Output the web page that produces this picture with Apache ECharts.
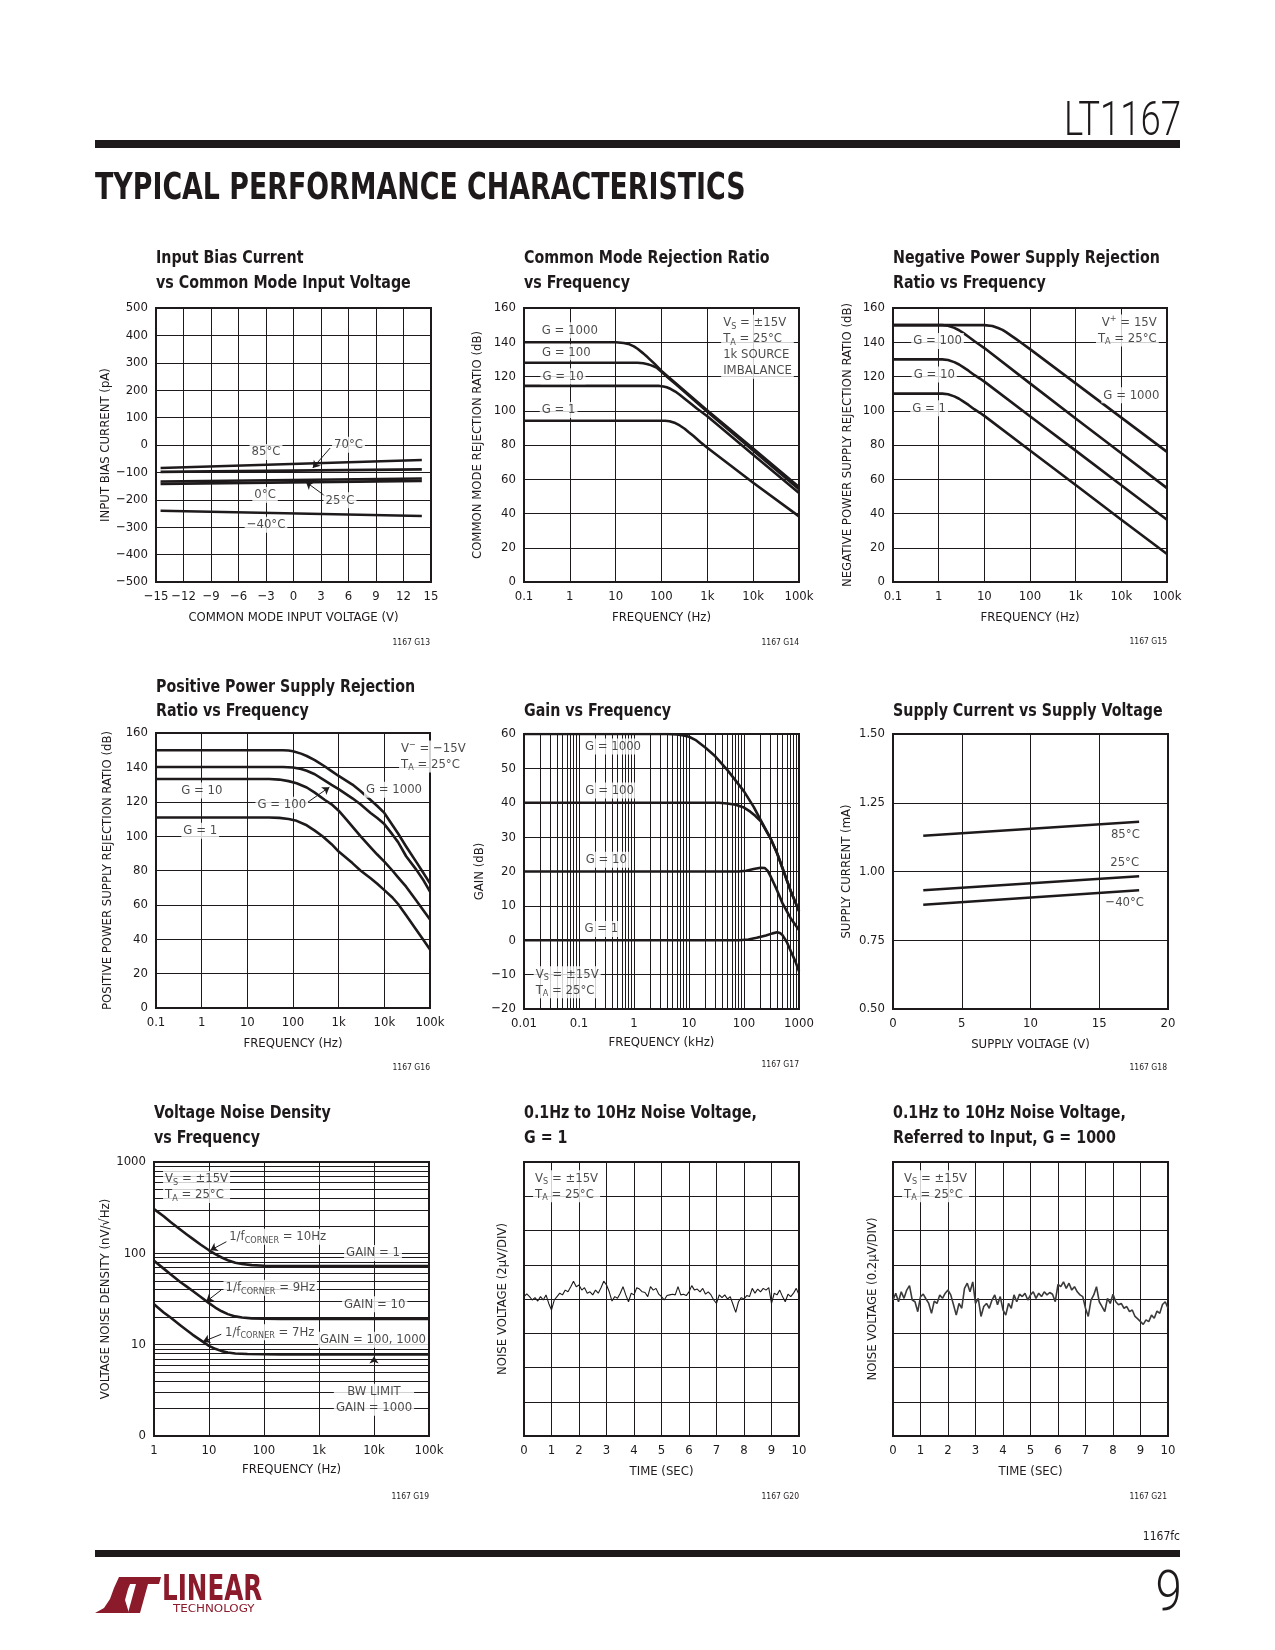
<!DOCTYPE html>
<html><head><meta charset="utf-8">
<script src="https://cdn.jsdelivr.net/npm/echarts@6/dist/echarts.min.js"></script>
<style>html,body{margin:0;padding:0;background:#fff}#c{width:1275px;height:1650px}</style>
</head><body><div id="c"></div>
<script>
// ---------------- DATA ----------------
// G13 Input bias current vs common mode voltage (straight lines, end points)
const ibVcm = [-14.5, 14];
const ib85C = [-84, -55];
const ib70C = [-98, -89];
const ib25C = [-133, -122];
const ib0C = [-142, -131];
const ibM40C = [-240, -259];

// G14 CMRR vs frequency  [Hz, dB]
const cmrrG1000 = [[0.1,140],[10,140],[15,139.6],[20,138.8],[25,137.6],[30,136.2],[40,133.5],[50,131.2],[70,127.5],[100,123.2],[1000,100.2],[10000,78],[100000,55.5]];
const cmrrG100 = [[0.1,128],[30,128],[40,127.7],[50,127.2],[60,126.5],[80,125],[100,122.8],[150,118.5],[200,115.7],[1000,99.4],[10000,76.8],[100000,54.2]];
const cmrrG10 = [[0.1,114.5],[90,114.5],[110,114.2],[130,113.7],[160,112.7],[200,111.2],[250,109.3],[320,107],[400,104.9],[600,101.2],[1000,96.8],[10000,74.3],[100000,52]];
const cmrrG1 = [[0.1,94.2],[120,94.2],[150,93.9],[200,92.8],[250,91.4],[320,89.5],[400,87.3],[500,85.2],[700,81.8],[1000,78.4],[10000,58],[100000,38.3]];

// G15 Negative PSRR vs frequency
const npsrrG1000 = [[0.1,150],[10,150],[15,149.5],[20,148.3],[25,147.2],[30,145.9],[40,143.6],[50,141.8],[70,139],[100,136],[1000,116],[10000,96],[100000,76]];
const npsrrG100 = [[0.1,150],[1.2,150],[1.6,149.6],[2.2,148.4],[2.8,147],[3.5,145.3],[4.5,143.2],[6,140.7],[8,138.4],[10,136.6],[100,116],[1000,95.5],[10000,75.2],[100000,54.8]];
const npsrrG10 = [[0.1,130],[1.2,130],[1.6,129.6],[2.2,128.4],[2.8,127],[3.5,125.3],[4.5,123.4],[6,120.9],[8,118.8],[10,117],[100,96.8],[1000,76.7],[10000,56.5],[100000,36.3]];
const npsrrG1 = [[0.1,110],[1.2,110],[1.6,109.6],[2.2,108.4],[2.8,107],[3.5,105.3],[4.5,103.4],[6,100.9],[8,98.8],[10,97],[100,76.8],[1000,56.6],[10000,36.4],[100000,16.3]];

// G16 Positive PSRR vs frequency
const ppsrrG1000 = [[0.1,150],[60,150],[80,149.8],[100,149.4],[150,148],[200,146.6],[300,144.2],[500,140.5],[700,137.8],[1000,135],[2000,130],[3000,126.2],[5000,121],[7000,117.5],[10000,113.5],[15000,106.5],[20000,101.5],[30000,94],[50000,85],[70000,79],[100000,72.5]];
const ppsrrG100 = [[0.1,140.2],[60,140.2],[100,139.9],[150,139],[200,138],[300,136],[500,132.3],[700,129.8],[1000,127.3],[2000,122],[3000,118.5],[5000,113.5],[7000,110.5],[10000,107],[15000,101],[20000,96.5],[30000,88.3],[50000,80.5],[70000,74.8],[100000,67.7]];
const ppsrrG10 = [[0.1,133.2],[30,133.2],[50,132.9],[80,132],[120,130.8],[200,128.3],[300,125.3],[500,121],[700,118.5],[1000,114.8],[1500,109.5],[2000,105.5],[3000,100],[5000,93.5],[7000,89.3],[10000,85.2],[15000,80],[20000,76],[30000,70.6],[50000,62.5],[70000,57.2],[100000,51.5]];
const ppsrrG1 = [[0.1,110.8],[30,110.8],[50,110.6],[80,110],[120,108.9],[200,106.3],[300,103.2],[450,99.8],[700,95.3],[1000,91],[2000,84.3],[3000,80],[5000,75.5],[7000,72.3],[10000,68.6],[15000,64.3],[20000,60.5],[30000,54],[50000,45.5],[70000,40],[100000,34]];

// G17 Gain vs frequency [kHz, dB]
const gainG1000 = [[0.01,60],[4,60],[6,59.9],[8,59.6],[10,59.2],[13,58.3],[20,56],[30,53.5],[50,49.5],[70,46.5],[100,43.3],[150,38.8],[200,35],[300,29.8],[400,25.3],[500,21],[700,14.5],[1000,8.5]];
const gainG100 = [[0.01,40],[35,40],[50,39.8],[70,39.4],[100,38.6],[130,37.4],[160,36.2],[200,34.7],[300,29.8],[400,25.3],[500,21],[700,14.5],[1000,8.5]];
const gainG10 = [[0.01,20],[80,20],[110,20.2],[150,20.7],[200,21.1],[240,21],[270,20.2],[300,18.8],[350,16.5],[400,14.5],[500,10.8],[700,6.5],[1000,3]];
const gainG1 = [[0.01,0],[80,0],[120,0.2],[170,0.7],[250,1.4],[330,2],[400,2.3],[450,2.1],[500,1.5],[600,-0.5],[700,-3],[850,-6],[1000,-9]];

// G18 Supply current vs supply voltage (straight lines)
const isVs = [2.2, 17.9];
const is85C = [1.130, 1.181];
const is25C = [0.932, 0.983];
const isM40C = [0.879, 0.932];

// G19 Voltage noise density [Hz, nV/rtHz]
const vnGain1 = [[1,305],[1.5,255],[2,220],[3,182],[4,160],[5,145],[7,125],[10,108],[13,98],[17,90],[22,84],[30,79],[40,76.5],[60,74.3],[100,73],[200,72.6],[100000,72.5]];
const vnGain10 = [[1,83],[1.5,68],[2,59],[3,48.5],[4,43],[5,39],[7,33.5],[10,28.5],[13,25.5],[17,23.2],[22,21.6],[30,20.4],[40,19.8],[60,19.4],[100,19.2],[200,19.1],[100000,19.1]];
const vnGain100 = [[1,27.7],[1.5,22.5],[2,19.8],[3,16.3],[4,14.3],[5,12.9],[7,11.2],[10,9.7],[13,9],[17,8.5],[22,8.2],[30,8],[50,7.9],[100,7.85],[200,7.8],[100000,7.8]];

// G20 / G21 0.1Hz-10Hz noise traces (divisions)
const noiseTime = [0,0.1,0.2,0.3,0.4,0.5,0.6,0.7,0.8,0.9,1,1.1,1.2,1.3,1.4,1.5,1.6,1.7,1.8,1.9,2,2.1,2.2,2.3,2.4,2.5,2.6,2.7,2.8,2.9,3,3.1,3.2,3.3,3.4,3.5,3.6,3.7,3.8,3.9,4,4.1,4.2,4.3,4.4,4.5,4.6,4.7,4.8,4.9,5,5.1,5.2,5.3,5.4,5.5,5.6,5.7,5.8,5.9,6,6.1,6.2,6.3,6.4,6.5,6.6,6.7,6.8,6.9,7,7.1,7.2,7.3,7.4,7.5,7.6,7.7,7.8,7.9,8,8.1,8.2,8.3,8.4,8.5,8.6,8.7,8.8,8.9,9,9.1,9.2,9.3,9.4,9.5,9.6,9.7,9.8,9.9,10];
const noiseG1 = [0.07,0.15,0.07,-0.03,0.04,-0.06,0.07,-0.03,0.12,-0.13,
 -0.32,-0.03,0.07,0.17,0.12,0.26,0.21,0.36,0.52,0.36,
 0.41,0.26,0.33,0.17,0.21,0.12,0.26,0.17,0.33,0.52,
 0.41,0.21,-0.06,0.07,0.02,0.17,0.36,0.12,-0.08,0.17,
 0.12,0.33,0.29,0.21,0.19,0.07,0.36,0.26,0.31,0.14,
 0.07,-0.03,0.1,0.12,0.14,0.12,0.36,0.12,0.14,0.1,
 0.21,0.39,0.26,0.29,0.21,0.31,0.14,0.21,0.12,-0.03,
 -0.13,0.12,0.04,0.12,0,0.07,-0.16,-0.39,-0.08,0.04,
 0,0.1,0.07,0.31,0.17,0.29,0.21,0.31,0.26,0.33,
 -0.13,0.17,0.12,0.26,0.07,-0.08,0.14,0.07,0.17,0.31,
 0.12];
const noiseG1000 = [-0.03,0.17,-0.08,0.21,0.02,0.26,0.39,-0.03,-0.08,-0.37,
 0.07,0.14,0,-0.13,-0.42,-0.06,-0.13,0.12,0.02,0.17,
 0.26,0.12,-0.17,-0.47,-0.13,-0.27,0.31,0.46,0.21,0.5,
 -0.13,0.02,-0.51,-0.22,-0.13,-0.27,-0.03,0.12,-0.17,0.07,
 -0.32,-0.47,-0.13,-0.27,0.12,-0.08,0.14,0.07,0.17,-0.03,
 0.12,0.21,0.02,0.17,0.07,0.21,0.12,0.19,0.14,-0.08,
 0.43,0.36,0.5,0.31,0.46,0.26,0.36,0.21,0.12,0.07,
 -0.27,-0.51,-0.03,0.12,0.36,-0.08,-0.22,-0.37,0.02,-0.13,
 0.14,-0.08,-0.17,-0.13,-0.27,-0.22,-0.37,-0.32,-0.51,-0.58,
 -0.66,-0.74,-0.61,-0.66,-0.47,-0.56,-0.35,-0.42,-0.16,-0.08,
 -0.27];

// Tick label text
const freqTickText = {0.01:'0.01',0.1:'0.1',1:'1',10:'10',100:'100',1000:'1k',10000:'10k',100000:'100k'};
const khzTickText = {0.01:'0.01',0.1:'0.1',1:'1',10:'10',100:'100',1000:'1000'};
const vnTickText = {1:'0',10:'10',100:'100',1000:'1000'};

const chartTitles = ['Input Bias Current\nvs Common Mode Input Voltage','Common Mode Rejection Ratio\nvs Frequency','Negative Power Supply Rejection\nRatio vs Frequency','Positive Power Supply Rejection\nRatio vs Frequency','Gain vs Frequency','Supply Current vs Supply Voltage','Voltage Noise Density\nvs Frequency','0.1Hz to 10Hz Noise Voltage,\nG = 1','0.1Hz to 10Hz Noise Voltage,\nReferred to Input, G = 1000'];
const chartIds = ['1167 G13','1167 G14','1167 G15','1167 G16','1167 G17','1167 G18','1167 G19','1167 G20','1167 G21'];

// ---------------- LAYOUT / STYLE ----------------
const INK = '#1e1a1b';
const FONT = "'Liberation Sans Narrow','DejaVu Sans Condensed',sans-serif";
const gridBoxes = [
  {left:156, top:308, width:275, height:274},
  {left:524, top:308, width:275, height:274},
  {left:893, top:308, width:274, height:274},
  {left:156, top:733, width:274, height:275},
  {left:524, top:734, width:275, height:275},
  {left:893, top:734, width:275, height:275},
  {left:154, top:1162, width:275, height:274},
  {left:524, top:1162, width:275, height:274},
  {left:893, top:1162, width:275, height:274}
];
const titleTops = [246,246,246,674.5,698.5,698.5,1101,1101,1101];
const idPos = [[430,643],[799,643],[1167,642],[430,1068],[799,1065],[1167,1068],[429,1497],[799,1497],[1167,1497]];

function merge(a,b){ const o=Object.assign({},a); for(const k in b){ const v=b[k]; if(v&&typeof v==='object'&&!Array.isArray(v)&&a&&a[k]&&typeof a[k]==='object'&&!Array.isArray(a[k])) o[k]=merge(a[k],v); else o[k]=v; } return o; }
const minus = v => String(v).replace('-', '\u2212');
const key = v => +(+v).toPrecision(6);

function mkAxis(g, o){ return merge({gridIndex:g, nameLocation:'middle', nameGap:29,
  axisLine:{show:false}, axisTick:{show:false},
  splitLine:{show:true, lineStyle:{color:INK, width:1}},
  axisLabel:{color:INK, fontFamily:FONT, fontSize:13, margin:8, showMinLabel:true, showMaxLabel:true},
  nameTextStyle:{color:INK, fontFamily:FONT, fontSize:13}}, o); }

const xAxes = [
  mkAxis(0,{type:'value', min:-15, max:15, interval:3, name:'COMMON MODE INPUT VOLTAGE (V)', axisLabel:{formatter:minus}}),
  mkAxis(1,{type:'log', min:0.1, max:100000, splitNumber:6, name:'FREQUENCY (Hz)', axisLabel:{formatter:v=>freqTickText[key(v)]||''}}),
  mkAxis(2,{type:'log', min:0.1, max:100000, splitNumber:6, name:'FREQUENCY (Hz)', axisLabel:{formatter:v=>freqTickText[key(v)]||''}}),
  mkAxis(3,{type:'log', min:0.1, max:100000, splitNumber:6, name:'FREQUENCY (Hz)', axisLabel:{formatter:v=>freqTickText[key(v)]||''}}),
  mkAxis(4,{type:'log', min:0.01, max:1000, splitNumber:5, name:'FREQUENCY (kHz)', nameGap:27.5, axisLabel:{formatter:v=>khzTickText[key(v)]||''}}),
  mkAxis(5,{type:'value', min:0, max:20, interval:5, name:'SUPPLY VOLTAGE (V)'}),
  mkAxis(6,{type:'log', min:1, max:100000, splitNumber:5, name:'FREQUENCY (Hz)', nameGap:27.5, axisLabel:{formatter:v=>freqTickText[key(v)]||''}}),
  mkAxis(7,{type:'value', min:0, max:10, interval:1, name:'TIME (SEC)'}),
  mkAxis(8,{type:'value', min:0, max:10, interval:1, name:'TIME (SEC)'})
];
const yAxes = [
  mkAxis(0,{type:'value', min:-500, max:500, interval:100, name:'INPUT BIAS CURRENT (pA)', nameGap:43, axisLabel:{formatter:minus}}),
  mkAxis(1,{type:'value', min:0, max:160, interval:20, name:'COMMON MODE REJECTION RATIO (dB)', nameGap:39.5}),
  mkAxis(2,{type:'value', min:0, max:160, interval:20, name:'NEGATIVE POWER SUPPLY REJECTION RATIO (dB)', nameGap:38.5}),
  mkAxis(3,{type:'value', min:0, max:160, interval:20, name:'POSITIVE POWER SUPPLY REJECTION RATIO (dB)', nameGap:41.5}),
  mkAxis(4,{type:'value', min:-20, max:60, interval:10, name:'GAIN (dB)', nameGap:37.5, axisLabel:{formatter:minus}}),
  mkAxis(5,{type:'value', min:0.5, max:1.5, interval:0.25, name:'SUPPLY CURRENT (mA)', nameGap:40, axisLabel:{formatter:v=>(+v).toFixed(2)}}),
  mkAxis(6,{type:'log', min:1, max:1000, splitNumber:3, name:'VOLTAGE NOISE DENSITY (nV/\u221AHz)', nameGap:37.5, axisLabel:{formatter:v=>vnTickText[key(v)]||''}}),
  mkAxis(7,{type:'value', min:-4, max:4, interval:1, name:'NOISE VOLTAGE (2\u00B5V/DIV)', nameGap:14.5, axisLabel:{show:false}}),
  mkAxis(8,{type:'value', min:-4, max:4, interval:1, name:'NOISE VOLTAGE (0.2\u00B5V/DIV)', nameGap:13.5, axisLabel:{show:false}})
];

const series = [];
const RICH = {
  s:{fontSize:9, lineHeight:10, verticalAlign:'bottom', fontFamily:FONT, color:INK},
  p:{fontSize:9, lineHeight:10, verticalAlign:'top', fontFamily:FONT, color:INK}
};
function curve(g, data, w){ series.push({type:'line', xAxisIndex:g, yAxisIndex:g, data:data, symbol:'none', smooth:false, lineStyle:{color:INK, width:w||2.6, join:'round'}, silent:true, z:3}); }
function straight(g, xs, ys){ series.push({type:'line', xAxisIndex:g, yAxisIndex:g, data:xs.map((x,i)=>[x,ys[i]]), symbol:'none', lineStyle:{color:INK, width:2.6}, silent:true, z:3}); }
function trace(g, ts, vs, w, c){ series.push({type:'line', xAxisIndex:g, yAxisIndex:g, data:ts.map((t,i)=>[t,vs[i]]), symbol:'none', lineStyle:{color:c||INK, width:w}, silent:true, z:3}); }
function note(g, x, y, text, o){ o=o||{}; series.push({type:'scatter', xAxisIndex:g, yAxisIndex:g, data:[[x,y]], symbolSize:1, itemStyle:{color:'rgba(0,0,0,0)'}, silent:true, z:10,
  label:{show:true, position:'inside', formatter:text, color:INK, fontFamily:FONT, fontSize:13, align:o.align||'center', verticalAlign:'middle', lineHeight:o.lh||16,
    backgroundColor:o.bg===false?'transparent':'#fff', padding:[0,2], rich:RICH}}); }
function arrow(g, x1, y1, x2, y2){ series.push({type:'line', xAxisIndex:g, yAxisIndex:g, data:[[x1,y1]], symbol:'none', lineStyle:{width:0}, silent:true, z:9,
  markLine:{silent:true, animation:false, symbol:['none','arrow'], symbolSize:7, label:{show:false}, lineStyle:{color:INK, width:1, type:'solid'}, emphasis:{disabled:true},
    data:[[{coord:[x1,y1]},{coord:[x2,y2]}]]}}); }
function minorLines(g, axis, values, anchor){ series.push({type:'line', xAxisIndex:g, yAxisIndex:g, data:[anchor], symbol:'none', lineStyle:{width:0}, silent:true, z:1,
  markLine:{silent:true, animation:false, symbol:['none','none'], label:{show:false}, lineStyle:{color:INK, width:1, type:'solid'}, emphasis:{disabled:true},
    data:values.map(v=>({[axis]:v}))}}); }

// minor log grid lines
const gainMinor = []; [0.01,0.1,1,10,100].forEach(d=>{for(let m=2;m<=9;m++) gainMinor.push(+(d*m).toPrecision(3));});
const vnMinor = []; [1,10,100].forEach(d=>{for(let m=2;m<=9;m++) vnMinor.push(d*m);});
minorLines(4, 'xAxis', gainMinor, [0.01,-20]);
minorLines(6, 'yAxis', vnMinor, [1,1]);

// G13
straight(0, ibVcm, ib85C); straight(0, ibVcm, ib70C); straight(0, ibVcm, ib25C); straight(0, ibVcm, ib0C); straight(0, ibVcm, ibM40C);
note(0, -3, -25.5, '85°C'); note(0, 6, 1, '70°C'); note(0, -3.1, -182, '0°C'); note(0, 5.07, -202, '25°C'); note(0, -3, -291, '\u221240°C');
arrow(0, 4.0, -11, 2.1, -84); arrow(0, 3.4, -185, 1.36, -135);
// G14
curve(1, cmrrG1000); curve(1, cmrrG100); curve(1, cmrrG10); curve(1, cmrrG1);
note(1, 1, 147, 'G = 1000'); note(1, 0.84, 134.2, 'G = 100'); note(1, 0.71, 120.2, 'G = 10'); note(1, 0.57, 100.4, 'G = 1');
note(1, 2000, 137.3, 'V{s|S} = ±15V\nT{s|A} = 25°C\n1k SOURCE\nIMBALANCE', {align:'left'});
// G15
curve(2, npsrrG1000); curve(2, npsrrG100); curve(2, npsrrG10); curve(2, npsrrG1);
note(2, 0.946, 140.8, 'G = 100'); note(2, 0.8, 121.2, 'G = 10'); note(2, 0.62, 101.4, 'G = 1'); note(2, 16600, 109.1, 'G = 1000');
note(2, 66000, 146.8, 'V{p|+} = 15V\nT{s|A} = 25°C', {align:'right'});
// G16
curve(3, ppsrrG1000); curve(3, ppsrrG100); curve(3, ppsrrG10); curve(3, ppsrrG1);
note(3, 1.01, 126.6, 'G = 10'); note(3, 56.9, 118.2, 'G = 100'); note(3, 0.93, 103.2, 'G = 1'); note(3, 16300, 127, 'G = 1000');
note(3, 21000, 146.3, 'V{p|\u2212} = \u221215V\nT{s|A} = 25°C', {align:'left'});
arrow(3, 194, 119.1, 627, 128.5);
// G17
curve(4, gainG1000); curve(4, gainG100); curve(4, gainG10); curve(4, gainG1);
note(4, 0.415, 56.4, 'G = 1000'); note(4, 0.361, 43.6, 'G = 100'); note(4, 0.314, 23.4, 'G = 10'); note(4, 0.255, 3.3, 'G = 1');
note(4, 0.015, -12.2, 'V{s|S} = ±15V\nT{s|A} = 25°C', {align:'left'});
// G18
straight(5, isVs, is85C); straight(5, isVs, is25C); straight(5, isVs, isM40C);
note(5, 16.9, 1.133, '85°C', {bg:false}); note(5, 16.85, 1.034, '25°C', {bg:false}); note(5, 16.85, 0.887, '\u221240°C', {bg:false});
// G19
curve(6, vnGain1); curve(6, vnGain10); curve(6, vnGain100);
note(6, 1.46, 533, 'V{s|S} = ±15V\nT{s|A} = 25°C', {align:'left'});
note(6, 177, 152, '1/f{s|CORNER} = 10Hz'); note(6, 130, 42, '1/f{s|CORNER} = 9Hz'); note(6, 127, 13.7, '1/f{s|CORNER} = 7Hz');
note(6, 9600, 101, 'GAIN = 1'); note(6, 10300, 27.7, 'GAIN = 10'); note(6, 9600, 11.3, 'GAIN = 100, 1000'); note(6, 10000, 2.49, 'BW LIMIT\nGAIN = 1000');
arrow(6, 20.7, 134, 10.6, 108); arrow(6, 16.7, 39.7, 8.9, 29.6); arrow(6, 16.7, 13, 7.8, 10.8); arrow(6, 10000, 3.95, 10000, 7.4);
// G20, G21
trace(7, noiseTime, noiseG1, 1.1);
note(7, 0.33, 3.29, 'V{s|S} = ±15V\nT{s|A} = 25°C', {align:'left'});
trace(8, noiseTime, noiseG1000, 1.6, '#3a3a3a');
note(8, 0.33, 3.29, 'V{s|S} = ±15V\nT{s|A} = 25°C', {align:'left'});

// ---------------- PAGE DECORATION ----------------
const RED = '#8b1a2b';
const graphic = [
  {type:'text', x:1181, y:123, scaleX:0.76, style:{text:'LT1167', fontFamily:'Roboto', fontWeight:300, fontSize:48, fill:INK, align:'right', verticalAlign:'middle'}},
  {type:'rect', shape:{x:95, y:140, width:1085, height:8}, style:{fill:INK}},
  {type:'text', x:95, y:189, scaleX:0.785, style:{text:'TYPICAL PERFORMANCE CHARACTERISTICS', fontFamily:"'DejaVu Sans Condensed',sans-serif", fontWeight:'bold', fontSize:38, fill:INK, align:'left', verticalAlign:'middle'}},
  {type:'text', x:1180, y:1537, style:{text:'1167fc', fontFamily:FONT, fontSize:12, fill:INK, align:'right', verticalAlign:'middle'}},
  {type:'rect', shape:{x:95, y:1550, width:1085, height:7}, style:{fill:INK}},
  {type:'text', x:1182, y:1596, scaleX:0.85, style:{text:'9', fontFamily:'Roboto', fontWeight:300, fontSize:56, fill:INK, align:'right', verticalAlign:'middle'}},
  {type:'polygon', shape:{points:[[95,1613],[104,1608],[110,1599],[114,1588],[119,1577],[133,1577],[128,1589],[125,1600],[129,1613]]}, style:{fill:RED}},
  {type:'polygon', shape:{points:[[128,1577],[161,1577],[159,1584],[148,1584],[140,1613],[128,1613],[136,1584],[126,1584]]}, style:{fill:RED}},
  {type:'text', x:162, y:1591, scaleX:0.76, style:{text:'LINEAR', fontFamily:"'DejaVu Sans Condensed',sans-serif", fontWeight:'bold', fontSize:36, fill:RED, align:'left', verticalAlign:'middle'}},
  {type:'text', x:173, y:1609.5, scaleX:1.2, style:{text:'TECHNOLOGY', fontFamily:FONT, fontSize:11, fill:RED, align:'left', verticalAlign:'middle'}}
];
chartIds.forEach((t,i)=>graphic.push({type:'text', x:idPos[i][0], y:idPos[i][1], style:{text:t, fontFamily:FONT, fontSize:8.5, fill:INK, align:'right', verticalAlign:'middle'}}));
chartTitles.forEach((t,i)=>graphic.push({type:'text', x:gridBoxes[i].left, y:titleTops[i], scaleX:0.855,
  style:{text:t, fontFamily:FONT, fontWeight:'bold', fontSize:18.5, lineHeight:24.5, fill:INK, align:'left', verticalAlign:'top'}}));

const chart = echarts.init(document.getElementById('c'), null, {renderer:'canvas'});
chart.setOption({
  animation:false,
  backgroundColor:'#fff',
  textStyle:{fontFamily:FONT, color:INK},
  grid:gridBoxes.map(b=>Object.assign({show:true, borderColor:INK, borderWidth:2, backgroundColor:'rgba(0,0,0,0)', containLabel:false, outerBoundsMode:'none'}, b)),
  xAxis:xAxes, yAxis:yAxes, series:series, graphic:graphic
});
</script></body></html>
